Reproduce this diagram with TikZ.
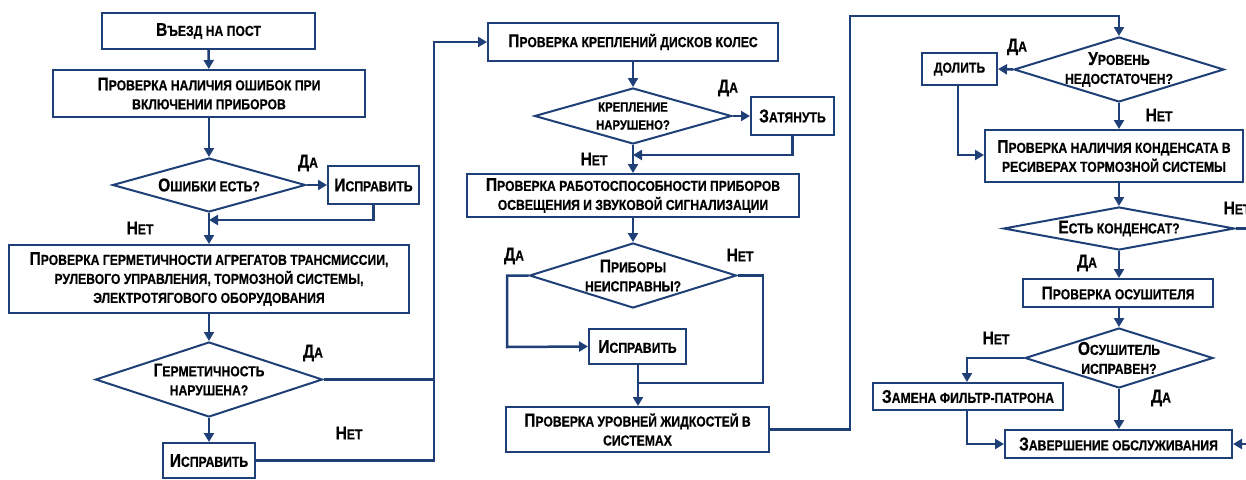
\documentclass[tikz,border=0pt]{standalone}
\usepackage{fontspec}
\setmainfont{Liberation Sans}[FakeStretch=0.84, BoldFeatures={FakeBold=0.5}]
\usetikzlibrary{shapes.geometric,arrows.meta}
\definecolor{navy}{HTML}{1F3F77}
\newcommand\Bg[1]{{\fontsize{18.5}{19}\selectfont #1}}
\tikzset{
  txt/.style={font=\bfseries\fontsize{14.5}{19}\selectfont, align=center, text=black},
  box/.style={txt, draw=navy, line width=2pt, inner sep=0pt, fill=white},
  dia/.style={draw=navy, line width=2pt, diamond, inner sep=0pt, fill=white},
  lbl/.style={txt},
  arr/.style={navy, line width=2.5pt, -{Triangle[length=9pt,width=10pt]}},
  ln/.style={navy, line width=2.5pt},
}
\begin{document}
\begin{tikzpicture}[x=1pt,y=-1pt]
\useasboundingbox (0,0) rectangle (1246,479);
% column 1
\node[box, minimum width=213, minimum height=36] (b1) at (208.5,31) {\Bg{В}ЪЕЗД НА ПОСТ};
\node[box, minimum width=312, minimum height=47] (b2) at (209,93.5) {\Bg{П}РОВЕРКА НАЛИЧИЯ ОШИБОК ПРИ\\ВКЛЮЧЕНИИ ПРИБОРОВ};
\node[dia, minimum width=193, minimum height=54, label={[txt]center:\Bg{О}ШИБКИ ЕСТЬ?}] (d1) at (209,185) {};
\node[box, minimum width=91, minimum height=38] (f1) at (373.5,185) {\Bg{И}СПРАВИТЬ};
\node[box, minimum width=400, minimum height=68] (b3) at (209,279) {\Bg{П}РОВЕРКА ГЕРМЕТИЧНОСТИ АГРЕГАТОВ ТРАНСМИССИИ,\\РУЛЕВОГО УПРАВЛЕНИЯ, ТОРМОЗНОЙ СИСТЕМЫ,\\ЭЛЕКТРОТЯГОВОГО ОБОРУДОВАНИЯ};
\node[dia, minimum width=227, minimum height=75, label={[txt]center:\Bg{Г}ЕРМЕТИЧНОСТЬ\\НАРУШЕНА?}] (d2) at (209,379.5) {};
\node[box, minimum width=92, minimum height=35] (f2) at (209,460.5) {\Bg{И}СПРАВИТЬ};
% column 2
\node[box, minimum width=290, minimum height=38] (b4) at (633,42) {\Bg{П}РОВЕРКА КРЕПЛЕНИЙ ДИСКОВ КОЛЕС};
\node[dia, minimum width=197, minimum height=56, label={[txt,font=\bfseries\fontsize{13.5}{18}\selectfont]center:КРЕПЛЕНИЕ\\НАРУШЕНО?}] (d3) at (633,116) {};
\node[box, minimum width=83, minimum height=38] (f3) at (792.5,116) {\Bg{З}АТЯНУТЬ};
\node[box, minimum width=332, minimum height=43] (b5) at (633,195.5) {\Bg{П}РОВЕРКА РАБОТОСПОСОБНОСТИ ПРИБОРОВ\\ОСВЕЩЕНИЯ И ЗВУКОВОЙ СИГНАЛИЗАЦИИ};
\node[dia, minimum width=207, minimum height=65, label={[txt]center:\Bg{П}РИБОРЫ\\НЕИСПРАВНЫ?}] (d4) at (633,275.5) {};
\node[box, minimum width=97, minimum height=35] (f4) at (637.5,346.5) {\Bg{И}СПРАВИТЬ};
\node[box, minimum width=263, minimum height=45] (b6) at (637.5,429.5) {\Bg{П}РОВЕРКА УРОВНЕЙ ЖИДКОСТЕЙ В\\СИСТЕМАХ};
% column 3
\node[dia, minimum width=210, minimum height=65, label={[txt]center:\Bg{У}РОВЕНЬ\\НЕДОСТАТОЧЕН?}] (d5) at (1119,69.5) {};
\node[box, minimum width=75, minimum height=32] (f5) at (959.5,69) {ДОЛИТЬ};
\node[box, minimum width=258, minimum height=52] (b7) at (1114,156) {\Bg{П}РОВЕРКА НАЛИЧИЯ КОНДЕНСАТА В\\РЕСИВЕРАХ ТОРМОЗНОЙ СИСТЕМЫ};
\node[dia, minimum width=231, minimum height=43, label={[txt]center:\Bg{Е}СТЬ КОНДЕНСАТ?}] (d6) at (1119,228.5) {};
\node[box, minimum width=190, minimum height=28] (b8) at (1118,293) {\Bg{П}РОВЕРКА ОСУШИТЕЛЯ};
\node[dia, minimum width=188, minimum height=60, label={[txt]center:\Bg{О}СУШИТЕЛЬ\\ИСПРАВЕН?}] (d7) at (1119,358) {};
\node[box, minimum width=190, minimum height=27] (f6) at (968,396.5) {\Bg{З}АМЕНА ФИЛЬТР-ПАТРОНА};
\node[box, minimum width=227, minimum height=28] (b9) at (1118.5,444) {\Bg{З}АВЕРШЕНИЕ ОБСЛУЖИВАНИЯ};
% coordinates
\coordinate (j1) at (209,220);
\coordinate (c1) at (434,42);
\coordinate (j2) at (633,155);
\coordinate (l4) at (507,347);
\coordinate (r4) at (763,383);
\coordinate (j4) at (638,383);
\coordinate (c2) at (850,16);
\coordinate (j5) at (958,155);
\coordinate (l7) at (967,358);
\coordinate (e6) at (1252,228.5);
\coordinate (e9) at (1252,444);
% connectors column 1
\draw[arr] (b1) -- (b2);
\draw[arr] (b2) -- (d1);
\draw[arr] (d1.east) -- (f1.west);
\draw[arr] (f1.south) |- (j1);
\draw[arr] (d1.south) -- (b3.north);
\draw[arr] (b3.south) -- (d2.north);
\draw[arr] (d2.south) -- (f2.north);
\draw[ln] (d2.east) -- (d2.east -| c1);
\draw[arr] (f2.east) -| (c1) -- (b4.west);
% column 2
\draw[arr] (b4.south) -- (d3.north);
\draw[arr] (d3.east) -- (f3.west);
\draw[arr] (f3.south) |- (j2);
\draw[arr] (d3.south) -- (b5.north);
\draw[arr] (b5.south) -- (d4.north);
\draw[arr] (d4.west) -| (l4) -- (f4.west);
\draw[ln] (d4.east) -| (r4) -- (j4);
\draw[arr] (f4.south -| j4) -- (b6.north -| j4);
\draw[arr] (b6.east) -| (c2) -| (d5.north);
% column 3
\draw[arr] (d5.west) -- (f5.east);
\draw[arr] (f5.south -| j5) -- (j5) -- (j5 -| b7.west);
\draw[arr] (d5.south) -- (d5.south |- b7.north);
\draw[arr] (b7.south -| d6.north) -- (d6.north);
\draw[ln] (d6.east) -- (e6);
\draw[arr] (d6.south) -- (d6.south |- b8.north);
\draw[arr] (b8.south -| d7.north) -- (d7.north);
\draw[arr] (d7.west) -| (l7) -- (l7 |- f6.north);
\draw[arr] (f6.south -| l7) |- (b9.west);
\draw[arr] (d7.south) -- (d7.south |- b9.north);
\draw[arr] (e9) -- (b9.east);
% labels
\node[lbl] (y1) at (308,163) {\Bg{Д}А};
\node[lbl] (n1) at (140,228) {\Bg{Н}ЕТ};
\node[lbl] (y2) at (313,353) {\Bg{Д}А};
\node[lbl] (n2) at (349,433) {\Bg{Н}ЕТ};
\node[lbl] (y3) at (728,88) {\Bg{Д}А};
\node[lbl] (n3) at (594,159) {\Bg{Н}ЕТ};
\node[lbl] (y4) at (514,256) {\Bg{Д}А};
\node[lbl] (n4) at (740,255) {\Bg{Н}ЕТ};
\node[lbl] (y5) at (1017,47) {\Bg{Д}А};
\node[lbl] (n5) at (1159,115) {\Bg{Н}ЕТ};
\node[lbl] (n6) at (1237,208) {\Bg{Н}ЕТ};
\node[lbl] (y6) at (1087,263) {\Bg{Д}А};
\node[lbl] (n7) at (996,338) {\Bg{Н}ЕТ};
\node[lbl] (y7) at (1161,398) {\Bg{Д}А};
\end{tikzpicture}
\end{document}
